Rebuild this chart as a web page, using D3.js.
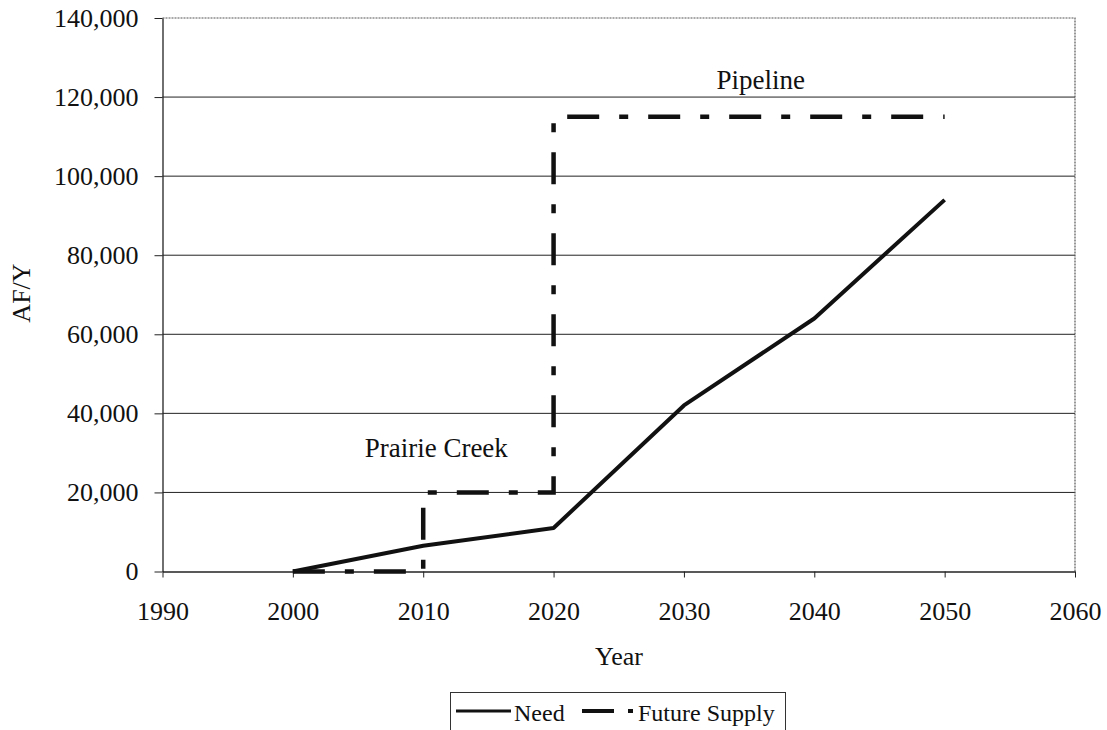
<!DOCTYPE html>
<html><head><meta charset="utf-8">
<script src="https://cdn.jsdelivr.net/npm/d3@7"></script>
<style>html,body{margin:0;padding:0;background:#fff;}svg{display:block;}svg text{font-family:"Liberation Serif","Times New Roman",serif !important;fill:#111;}</style>
</head><body>
<svg id="chart" width="1107" height="730"></svg>
<script>
const needYears = [2000, 2010, 2020, 2030, 2040, 2050];
const needValues = [0, 6500, 11000, 42000, 64000, 94000];
const supplyYears = [2000, 2010, 2010, 2020, 2020, 2050];
const supplyValues = [0, 0, 20000, 20000, 115000, 115000];
const xTicks = [1990, 2000, 2010, 2020, 2030, 2040, 2050, 2060];
const yTicks = [0, 20000, 40000, 60000, 80000, 100000, 120000, 140000];
const annotations = [{label: "Prairie Creek", year: 2011.0, value: 29000}, {label: "Pipeline", year: 2035.9, value: 122000}];
const legendLabels = ["Need", "Future Supply"];

const svg = d3.select("#chart");
const x = d3.scaleLinear().domain([1990, 2060]).range([162.5, 1075]);
const y = d3.scaleLinear().domain([0, 140000]).range([571.5, 18]);

// gridlines
svg.append("g").selectAll("line").data(yTicks.filter(d => d > 0 && d < 140000)).join("line")
  .attr("x1", x(1990)).attr("x2", x(2060)).attr("y1", d => y(d)).attr("y2", d => y(d))
  .attr("stroke", "#222").attr("stroke-width", 1);

// plot border (top/right)
svg.append("path").attr("d", `M${x(1990)},${y(140000)}H${x(2060)}V${y(0)}`)
  .attr("fill", "none").attr("stroke", "#555").attr("stroke-width", 1.2).attr("stroke-dasharray", "2,1");

const tickFont = 26;
const yAxis = svg.append("g").attr("transform", `translate(${x(1990)},0)`)
  .call(d3.axisLeft(y).tickValues(yTicks).tickFormat(d3.format(",")).tickSize(8).tickPadding(16).tickSizeOuter(0));
const xAxis = svg.append("g").attr("transform", `translate(0,${y(0)})`)
  .call(d3.axisBottom(x).tickValues(xTicks).tickFormat(d3.format("d")).tickSize(6).tickPadding(24).tickSizeOuter(0));
[yAxis, xAxis].forEach(a => {
  a.select(".domain").attr("stroke", "#222").attr("stroke-width", 1.3);
  a.selectAll(".tick line").attr("stroke", "#222");
  a.selectAll("text").attr("font-size", tickFont).attr("fill", "#111");
});

// Need line
svg.append("path").datum(needYears.map((d, i) => [d, needValues[i]]))
  .attr("d", d3.line().x(d => x(d[0])).y(d => y(d[1])))
  .attr("fill", "none").attr("stroke", "#111").attr("stroke-width", 4).attr("stroke-linejoin", "round");

// Future supply line
svg.append("path").datum(supplyYears.map((d, i) => [d, supplyValues[i]]))
  .attr("d", d3.line().x(d => x(d[0])).y(d => y(d[1])))
  .attr("fill", "none").attr("stroke", "#111").attr("stroke-width", 4.5)
  .attr("stroke-dasharray", "32,20,9,20");

// annotations
svg.append("g").selectAll("text").data(annotations).join("text")
  .attr("x", d => x(d.year)).attr("y", d => y(d.value))
  .attr("text-anchor", "middle").attr("font-size", 27).text(d => d.label);

// axis titles
svg.append("text").attr("x", 619).attr("y", 665).attr("text-anchor", "middle").attr("font-size", 26).text("Year");
svg.append("text").attr("transform", "translate(30,293) rotate(-90)").attr("text-anchor", "middle").attr("font-size", 26).text("AF/Y");

// legend
const lg = svg.append("g");
lg.append("rect").attr("x", 450.5).attr("y", 692.5).attr("width", 335).attr("height", 40)
  .attr("fill", "#fff").attr("stroke", "#333").attr("stroke-width", 1);
lg.append("line").attr("x1", 456).attr("x2", 511).attr("y1", 711).attr("y2", 711).attr("stroke", "#111").attr("stroke-width", 3);
lg.append("text").attr("x", 514).attr("y", 721).attr("font-size", 24).text(legendLabels[0]);
lg.append("line").attr("x1", 582).attr("x2", 640).attr("y1", 711).attr("y2", 711).attr("stroke", "#111").attr("stroke-width", 4)
  .attr("stroke-dasharray", "32,14,5,20");
lg.append("text").attr("x", 638).attr("y", 721).attr("font-size", 24).text(legendLabels[1]);
</script>
</body></html>
